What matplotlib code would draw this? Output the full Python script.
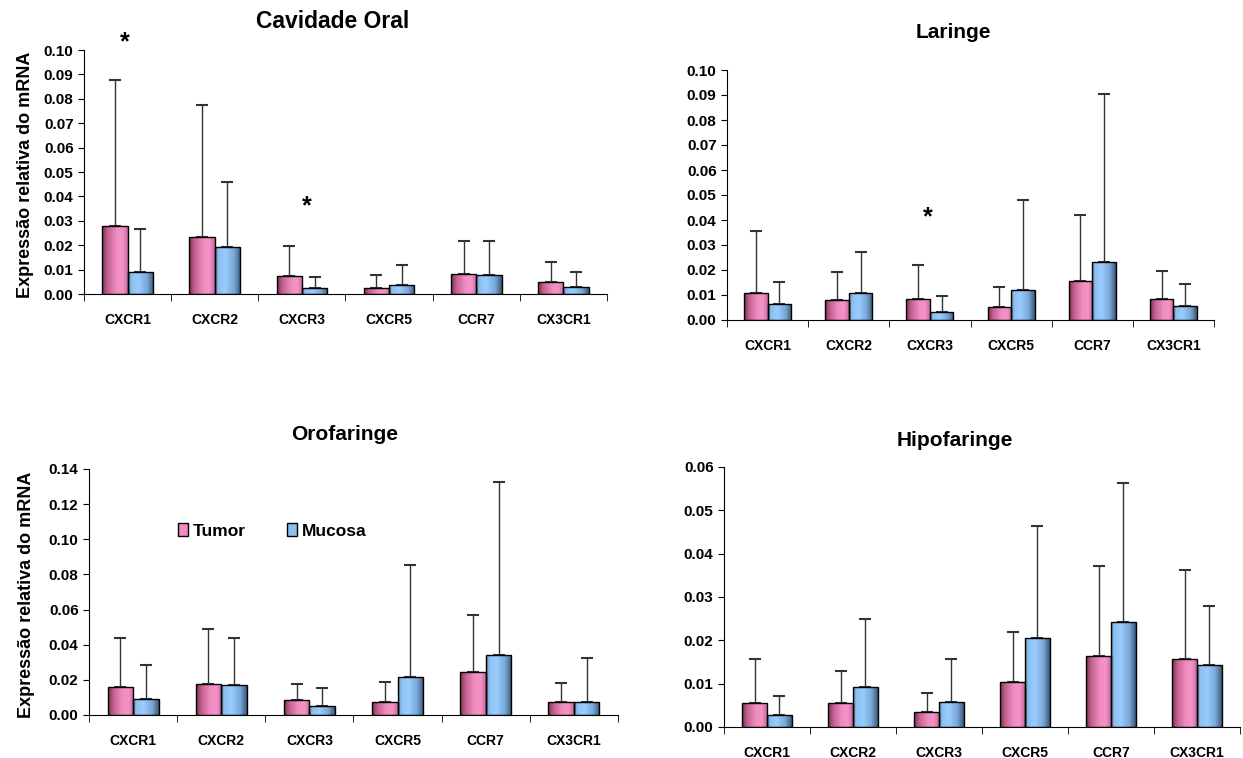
import numpy as np
import matplotlib.pyplot as plt
from matplotlib.colors import LinearSegmentedColormap
from matplotlib.patches import Patch

plt.rcParams['font.family'] = ['Liberation Sans', 'DejaVu Sans']
plt.rcParams['font.weight'] = 'bold'

genes = ["CXCR1", "CXCR2", "CXCR3", "CXCR5", "CCR7", "CX3CR1"]

# Cavidade Oral
oral_tumor = [0.0279, 0.0234, 0.0074, 0.0025, 0.0082, 0.0049]
oral_tumor_sd = [0.0598, 0.0541, 0.0123, 0.0052, 0.0135, 0.0082]
oral_mucosa = [0.0090, 0.0193, 0.0025, 0.0037, 0.0078, 0.0030]
oral_mucosa_sd = [0.0176, 0.0266, 0.0046, 0.0082, 0.0139, 0.0060]

# Laringe
lar_tumor = [0.0107, 0.0079, 0.0085, 0.0051, 0.0155, 0.0085]
lar_tumor_sd = [0.0250, 0.0112, 0.0136, 0.0081, 0.0266, 0.0112]
lar_mucosa = [0.0063, 0.0107, 0.0031, 0.0119, 0.0231, 0.0055]
lar_mucosa_sd = [0.0090, 0.0166, 0.0066, 0.0361, 0.0674, 0.0088]

# Orofaringe
oro_tumor = [0.0161, 0.0176, 0.0085, 0.0074, 0.0244, 0.0074]
oro_tumor_sd = [0.0275, 0.0311, 0.0091, 0.0112, 0.0326, 0.0110]
oro_mucosa = [0.0091, 0.0169, 0.0051, 0.0218, 0.0341, 0.0074]
oro_mucosa_sd = [0.0193, 0.0267, 0.0101, 0.0638, 0.0985, 0.0252]

# Hipofaringe
hipo_tumor = [0.0055, 0.0055, 0.0035, 0.0105, 0.0164, 0.0157]
hipo_tumor_sd = [0.0102, 0.0074, 0.0043, 0.0114, 0.0208, 0.0205]
hipo_mucosa = [0.0028, 0.0092, 0.0058, 0.0205, 0.0242, 0.0143]
hipo_mucosa_sd = [0.0044, 0.0157, 0.0099, 0.0259, 0.0321, 0.0137]

pink_cmap = LinearSegmentedColormap.from_list(
    "pink", [(0, "#7a3050"), (0.2, "#c0608f"), (0.55, "#f08cc0"), (0.8, "#f592c8"), (1, "#c86c9c")])
blue_cmap = LinearSegmentedColormap.from_list(
    "blue", [(0, "#5a7a9a"), (0.12, "#8cc0f0"), (0.4, "#99ccff"), (0.75, "#78a6d6"), (1, "#3a5878")])

W, H = 1243, 758
fig = plt.figure(figsize=(W / 100, H / 100), dpi=100)


def px_axes(l, r, t, b):
    return fig.add_axes([l / W, 1 - b / H, (r - l) / W, (b - t) / H])


def draw_panel(ax, tumor, tumor_sd, mucosa, mucosa_sd, ymax, ystep):
    x = np.arange(len(genes))
    w = 0.29
    for vals, sd, off, cmap in [(tumor, tumor_sd, -w / 2, pink_cmap),
                                (mucosa, mucosa_sd, w / 2, blue_cmap)]:
        bars = ax.bar(x + off, vals, w, color="none", edgecolor="black", linewidth=1.0, zorder=3)
        grad = np.linspace(0, 1, 64).reshape(1, -1)
        for b in bars:
            x0, y0 = b.get_x(), b.get_y()
            im = ax.imshow(grad, extent=[x0, x0 + b.get_width(), y0, y0 + b.get_height()],
                           aspect="auto", cmap=cmap, zorder=2, interpolation="bilinear")
            im.set_clip_path(b)
        ax.errorbar(x + off, vals, yerr=[np.zeros(len(vals)), sd], fmt="none",
                    ecolor="#333333", elinewidth=1.0, capsize=4, capthick=1.5, zorder=1)
    ax.set_xlim(-0.5, len(genes) - 0.5)
    ax.set_ylim(0, ymax)
    ax.set_yticks(np.arange(0, ymax + ystep / 2, ystep))
    ax.yaxis.set_major_formatter(plt.FormatStrFormatter("%.2f"))
    ax.set_xticks(x)
    ax.set_xticklabels(genes)
    ax.set_xticks(np.arange(-0.5, len(genes)), minor=True)
    ax.tick_params(axis="x", which="major", length=0, pad=14, labelsize=10)
    ax.tick_params(axis="x", which="minor", length=5, direction="out")
    ax.tick_params(axis="y", length=4, direction="out", labelsize=11)
    for s in ["top", "right"]:
        ax.spines[s].set_visible(False)
    ax.set_aspect("auto")


ax1 = px_axes(84, 607, 50, 294)
draw_panel(ax1, oral_tumor, oral_tumor_sd, oral_mucosa, oral_mucosa_sd, 0.10, 0.01)
ax2 = px_axes(727, 1214, 70, 320)
draw_panel(ax2, lar_tumor, lar_tumor_sd, lar_mucosa, lar_mucosa_sd, 0.10, 0.01)
ax3 = px_axes(89, 618, 469, 715)
draw_panel(ax3, oro_tumor, oro_tumor_sd, oro_mucosa, oro_mucosa_sd, 0.14, 0.02)
ax4 = px_axes(724, 1240, 467, 727)
draw_panel(ax4, hipo_tumor, hipo_tumor_sd, hipo_mucosa, hipo_mucosa_sd, 0.06, 0.01)

# titles
fig.text(333 / W, 1 - 22 / H, "Cavidade Oral", ha="center", va="center", fontsize=16.5, fontweight="bold")
fig.text(953 / W, 1 - 32 / H, "Laringe", ha="center", va="center", fontsize=15, fontweight="bold")
fig.text(345 / W, 1 - 434 / H, "Orofaringe", ha="center", va="center", fontsize=15, fontweight="bold")
fig.text(955 / W, 1 - 440 / H, "Hipofaringe", ha="center", va="center", fontsize=15, fontweight="bold")

# y labels
fig.text(26 / W, 1 - 175 / H, "Expressão relativa do mRNA", rotation=90, ha="center", va="center",
         fontsize=13, fontweight="bold")
fig.text(27 / W, 1 - 595 / H, "Expressão relativa do mRNA", rotation=90, ha="center", va="center",
         fontsize=13, fontweight="bold")

# significance marks
ax1.text(-0.03, 0.103, "*", ha="center", va="center", fontsize=18, fontweight="bold", clip_on=False)
ax1.text(2.06, 0.036, "*", ha="center", va="center", fontsize=18, fontweight="bold")
ax2.text(1.975, 0.041, "*", ha="center", va="center", fontsize=18, fontweight="bold")

# legend
handles = [Patch(facecolor="#f08cc0", edgecolor="black", label="Tumor"),
           Patch(facecolor="#8cc0f0", edgecolor="black", label="Mucosa")]
fig.legend(handles=handles, loc="center left", bbox_to_anchor=(178 / W, 1 - 531 / H), ncol=2,
           frameon=False, handlelength=0.55, handleheight=0.8, handletextpad=0.3,
           columnspacing=2.4, borderpad=0, borderaxespad=0,
           prop={"weight": "bold", "size": 12.5})

fig.savefig("out.png", dpi=100)
